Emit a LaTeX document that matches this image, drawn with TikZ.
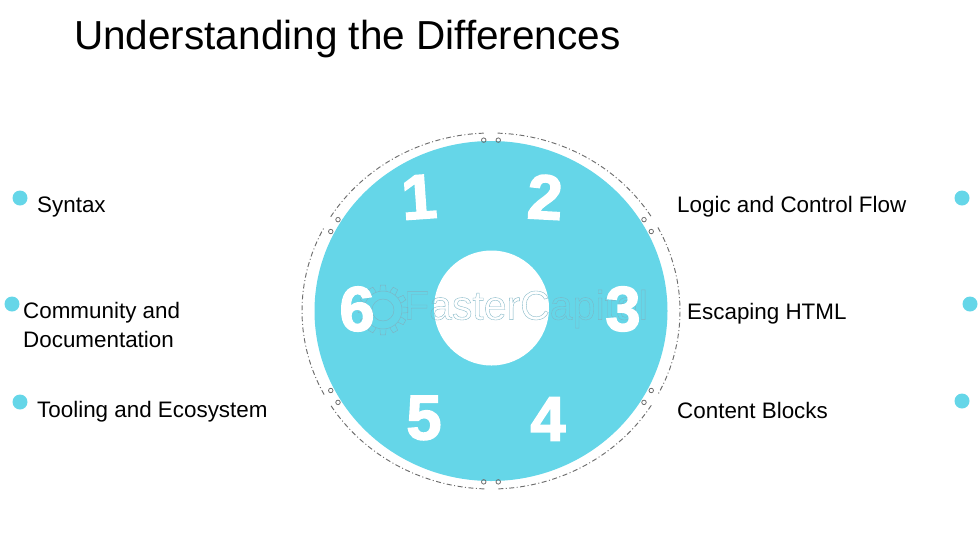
\documentclass[tikz,border=0pt]{standalone}
\usepackage{fontspec}
\setmainfont{Liberation Sans}
\newfontfamily\digitfont[FakeBold=2.5]{Liberation Sans Bold}
\definecolor{ringblue}{HTML}{65D6E8}
\definecolor{markgrey}{HTML}{7DB4C4}
\definecolor{seamgrey}{HTML}{6E6E6E}
\newcommand{\outlinetext}[1]{\special{pdf:code 1 Tr 0.35 w}#1\special{pdf:code 0 Tr}}
\tikzset{
  itemtext/.style={anchor=west, align=left, font=\fontsize{22.4}{29}\selectfont, inner sep=0pt},
  bullet/.style={circle, fill=ringblue, inner sep=0pt, minimum size=15pt},
  digit/.style={text=white, font=\fontsize{63}{63}\digitfont, inner sep=0pt},
  seam/.style={seamgrey, line width=0.95pt, dash pattern=on 5pt off 2.5pt on 1pt off 2.5pt},
  seampin/.style={circle, draw=seamgrey, line width=0.8pt, inner sep=0pt, minimum size=4.5pt},
  gearline/.style={markgrey, line width=0.45pt}
}
\begin{document}
\begin{tikzpicture}[x=1pt,y=-1pt]
\useasboundingbox (0,0) rectangle (980,550);
\node[anchor=west, inner sep=0pt, font=\fontsize{40.5}{41}\selectfont] (title) at (74,39) {Understanding the Differences};
% ring and hole
\coordinate (hub) at (491,311);
\fill[ringblue] (hub) ellipse [x radius=176.5, y radius=170];
\fill[white] (491.5,308) circle (57.5);
% segmented outline, one arc per number
\foreach \a in {32,92,152,212,272,332} {
  \draw[seam] ([shift={(\a:189 and 178)}]hub) arc [start angle=\a, end angle=\a+56, x radius=189, y radius=178];
  \node[seampin] (pina\a) at ([shift={(\a+0.3:181 and 171)}]hub) {};
  \node[seampin] (pinb\a) at ([shift={(\a+55.7:181 and 171)}]hub) {};
}
% gear and lettering
\coordinate (gear) at (383,310);
\draw[gearline] (gear) circle (19);
\draw[gearline] (gear) circle (11);
\foreach \a in {0,30,...,330} {
  \draw[gearline] ([shift={(\a-9:19.5)}]gear) -- ([shift={(\a-6:25)}]gear) -- ([shift={(\a+6:25)}]gear) -- ([shift={(\a+9:19.5)}]gear);
}
\node[gearline, inner sep=0pt, font=\fontsize{41}{41}\selectfont] (brand) at (526,309) {\outlinetext{FasterCapital}};
% numbers
\node[digit, rotate=4] (n1) at (419,197) {1};
\node[digit, rotate=-3] (n2) at (545,197) {2};
\node[digit] (n3) at (623,309) {3};
\node[digit] (n4) at (548,419) {4};
\node[digit] (n5) at (424,418) {5};
\node[digit] (n6) at (357,309) {6};
% left column
\node[bullet] (b1) at (20,198) {};
\node[itemtext] (l1) at (37,207) {Syntax};
\node[bullet] (b6) at (12,304) {};
\node[itemtext] (l6) at (23,325) {Community and\\Documentation};
\node[bullet] (b5) at (20,402) {};
\node[itemtext] (l5) at (37,412) {Tooling and Ecosystem};
% right column
\node[bullet] (b2) at (962,198) {};
\node[itemtext] (l2) at (677,207) {Logic and Control Flow};
\node[bullet] (b3) at (970,304) {};
\node[itemtext] (l3) at (687,314) {Escaping HTML};
\node[bullet] (b4) at (962,401) {};
\node[itemtext] (l4) at (677,410) {Content Blocks};
\end{tikzpicture}
\end{document}
